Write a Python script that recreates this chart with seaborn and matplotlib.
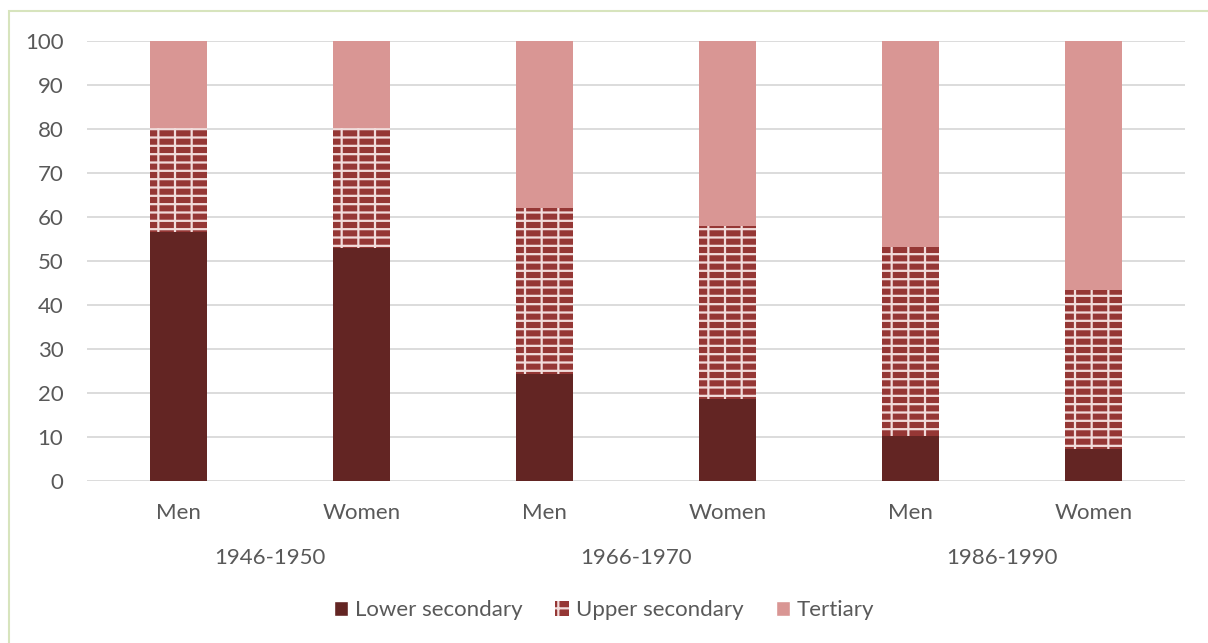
import pandas as pd
import matplotlib.pyplot as plt
import seaborn as sns
from matplotlib.patches import Patch, Rectangle

# Data (percent)
cohorts = ['1946-1950', '1966-1970', '1986-1990']
sexes = ['Men', 'Women', 'Men', 'Women', 'Men', 'Women']
lower = [56.5, 53.0, 24.3, 18.6, 10.2, 7.3]
upper = [23.7, 27.2, 37.7, 39.4, 43.0, 36.1]
tertiary = [19.8, 19.8, 38.0, 42.0, 46.8, 56.6]

c_lower = '#632523'
c_brick = '#953735'
c_mortar = '#F2DCDB'
c_tert = '#D99694'
c_text = '#595959'
fs = 16

sns.set_theme(style='white')
plt.rcParams['font.family'] = ['Lato', 'DejaVu Sans']
plt.rcParams['hatch.linewidth'] = 1.6

df = pd.DataFrame({
    'bar': [f'{s}_{i}' for i, s in enumerate(sexes)],
    'lower': lower,
    'upper': upper,
    'tertiary': tertiary,
})
df['upper_top'] = df['lower'] + df['upper']
df['total'] = df['upper_top'] + df['tertiary']

fig = plt.figure(figsize=(12.08, 6.43), dpi=100)
ax = fig.add_axes([0.072, 0.252, 0.909, 0.684])

w = 0.31
sns.barplot(data=df, x='bar', y='total', color=c_tert, width=w,
            saturation=1, linewidth=0, ax=ax, zorder=3)
sns.barplot(data=df, x='bar', y='upper_top', color=c_brick, width=w,
            saturation=1, linewidth=0, edgecolor=c_mortar, hatch='--',
            ax=ax, zorder=3)
sns.barplot(data=df, x='bar', y='upper_top', color=c_brick, width=w,
            saturation=1, linewidth=0, edgecolor=c_mortar, hatch='|',
            fill=False, ax=ax, zorder=3)
sns.barplot(data=df, x='bar', y='lower', color=c_lower, width=w,
            saturation=1, linewidth=0, ax=ax, zorder=3)

ax.set_xlim(-0.5, 5.5)
ax.set_ylim(0, 100)
ax.set_yticks(range(0, 101, 10))
ax.yaxis.grid(True, color='#D9D9D9', linewidth=1.3, zorder=0)
ax.set_axisbelow(True)
for s in ax.spines.values():
    s.set_visible(False)
ax.set_xticks(range(6))
ax.set_xticklabels(sexes)
ax.tick_params(axis='x', length=0, pad=16, labelsize=fs, labelcolor=c_text)
ax.tick_params(axis='y', length=0, pad=17, labelsize=fs, labelcolor=c_text)
ax.set_xlabel('')
ax.set_ylabel('')

for i, c in enumerate(cohorts):
    ax.text(2 * i + 0.5, -0.175, c, transform=ax.get_xaxis_transform(),
            ha='center', va='center', fontsize=fs, color=c_text)

handles = [
    Patch(facecolor=c_lower, label='Lower secondary'),
    Patch(facecolor=c_brick, edgecolor=c_mortar, hatch='+', linewidth=0,
          label='Upper secondary'),
    Patch(facecolor=c_tert, label='Tertiary'),
]
leg = fig.legend(handles=handles, loc='center', bbox_to_anchor=(0.5, 0.051),
                 ncol=3, frameon=False, fontsize=fs, handlelength=0.65,
                 handleheight=0.65, handletextpad=0.3, columnspacing=1.45)
for t in leg.get_texts():
    t.set_color(c_text)

fig.patches.append(Rectangle((9 / 1208, -0.1), 1.2, 1 - 11.5 / 643 + 0.1,
                             transform=fig.transFigure, fill=False,
                             edgecolor='#D7E4BD', linewidth=1.5))

fig.savefig('out.png', dpi=100)
